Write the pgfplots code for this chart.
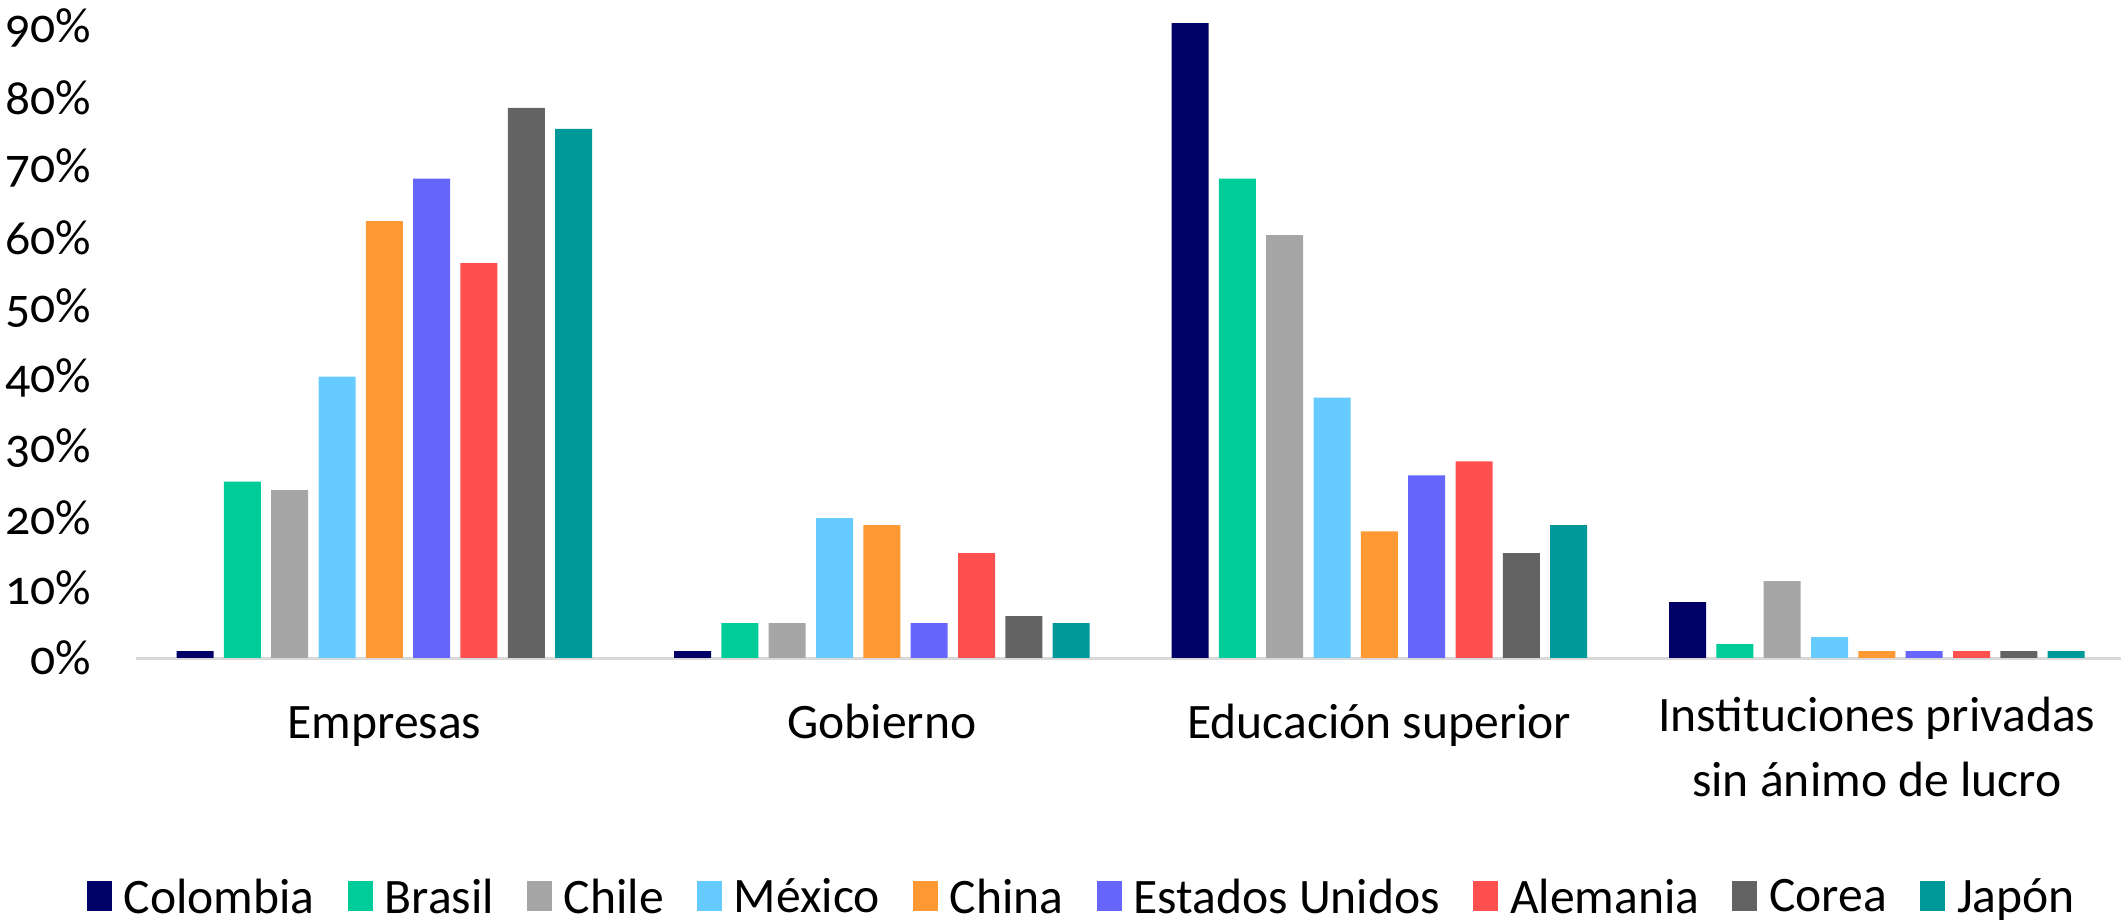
\documentclass[border=0pt]{standalone}
\usepackage{fontspec}
\setmainfont{Carlito}
\newfontfamily\numfont{Carlito}[Numbers=OldStyle]
\usepackage{pgfplots}
\usepackage{pgfplotstable}
\pgfplotsset{compat=1.18}

\definecolor{cColombia}{HTML}{000066}
\definecolor{cBrasil}{HTML}{00CC99}
\definecolor{cChile}{HTML}{A6A6A6}
\definecolor{cMexico}{HTML}{66CCFF}
\definecolor{cChina}{HTML}{FF9933}
\definecolor{cEEUU}{HTML}{6666FF}
\definecolor{cAlemania}{HTML}{FF5050}
\definecolor{cCorea}{HTML}{636363}
\definecolor{cJapon}{HTML}{009999}
\definecolor{axisgray}{HTML}{D9D9D9}

% sector: 0 Empresas, 1 Gobierno, 2 Educacion superior, 3 Instituciones privadas
\pgfplotstableread{
x Colombia Brasil Chile Mexico China EEUU Alemania Corea Japon
0 1.0  25.2 24.0 40.2 62.4 68.5 56.4 78.6 75.6
1 1.0  5.0  5.0  20.0 19.0 5.0  15.0 6.0  5.0
2 90.7 68.5 60.4 37.2 18.1 26.1 28.1 15.0 19.0
3 8.0  2.0  11.0 3.0  1.0  1.0  1.0  1.0  1.0
}\datos

\pgfplotsset{
  sq/.style={draw=none, fill=#1,
    legend image code/.code={\fill[##1] (0bp,-3bp) rectangle (6.25bp,4.5bp);}},
}

\begin{document}
\begin{tikzpicture}
\useasboundingbox (0,0) rectangle (530.25bp,230.25bp);
\begin{axis}[
  at={(33.9bp,65.75bp)}, anchor=south west,
  scale only axis, width=497.5bp, height=161bp,
  xmin=-0.5, xmax=3.5, ymin=0, ymax=92,
  ybar=2.58bp, bar width=9.25bp,
  axis x line*=bottom, axis y line*=left,
  x axis line style={draw=axisgray, line width=0.75bp, -},
  y axis line style={draw=none},
  major tick length=0pt,
  xtick={0,1,2,3},
  xticklabels={Empresas, Gobierno, Educación superior, {Instituciones privadas\\[1.4bp]sin ánimo de lucro}},
  xticklabel style={align=center, anchor=north, inner sep=0pt, yshift=-9.5bp,
    font=\fontsize{12.4bp}{14.8bp}\selectfont,
    execute at begin node={\vphantom{Éb}}},
  ytick={0,10,...,90},
  yticklabels={0\%,10\%,20\%,30\%,40\%,50\%,60\%,70\%,80\%,90\%},
  yticklabel style={anchor=east, inner sep=0pt, xshift=-10.9bp,
    font=\numfont\fontsize{12.4bp}{14.8bp}\selectfont},
  legend style={draw=none, fill=none, legend columns=-1,
    at={(0.475,-0.374)}, anchor=center,
    font=\fontsize{12.4bp}{14.8bp}\selectfont,
    /tikz/every even column/.append style={column sep=8.25bp},
    /tikz/every odd column/.append style={column sep=3bp},
    nodes={inner sep=0pt}},
  legend cell align=left,
]
\addplot[sq=cColombia] table[x=x, y=Colombia]{\datos};
\addplot[sq=cBrasil] table[x=x, y=Brasil]{\datos};
\addplot[sq=cChile] table[x=x, y=Chile]{\datos};
\addplot[sq=cMexico] table[x=x, y=Mexico]{\datos};
\addplot[sq=cChina] table[x=x, y=China]{\datos};
\addplot[sq=cEEUU] table[x=x, y=EEUU]{\datos};
\addplot[sq=cAlemania] table[x=x, y=Alemania]{\datos};
\addplot[sq=cCorea] table[x=x, y=Corea]{\datos};
\addplot[sq=cJapon] table[x=x, y=Japon]{\datos};
\legend{Colombia, Brasil, Chile, México, China, Estados Unidos, Alemania, Corea, Japón}
\end{axis}
\end{tikzpicture}
\end{document}
